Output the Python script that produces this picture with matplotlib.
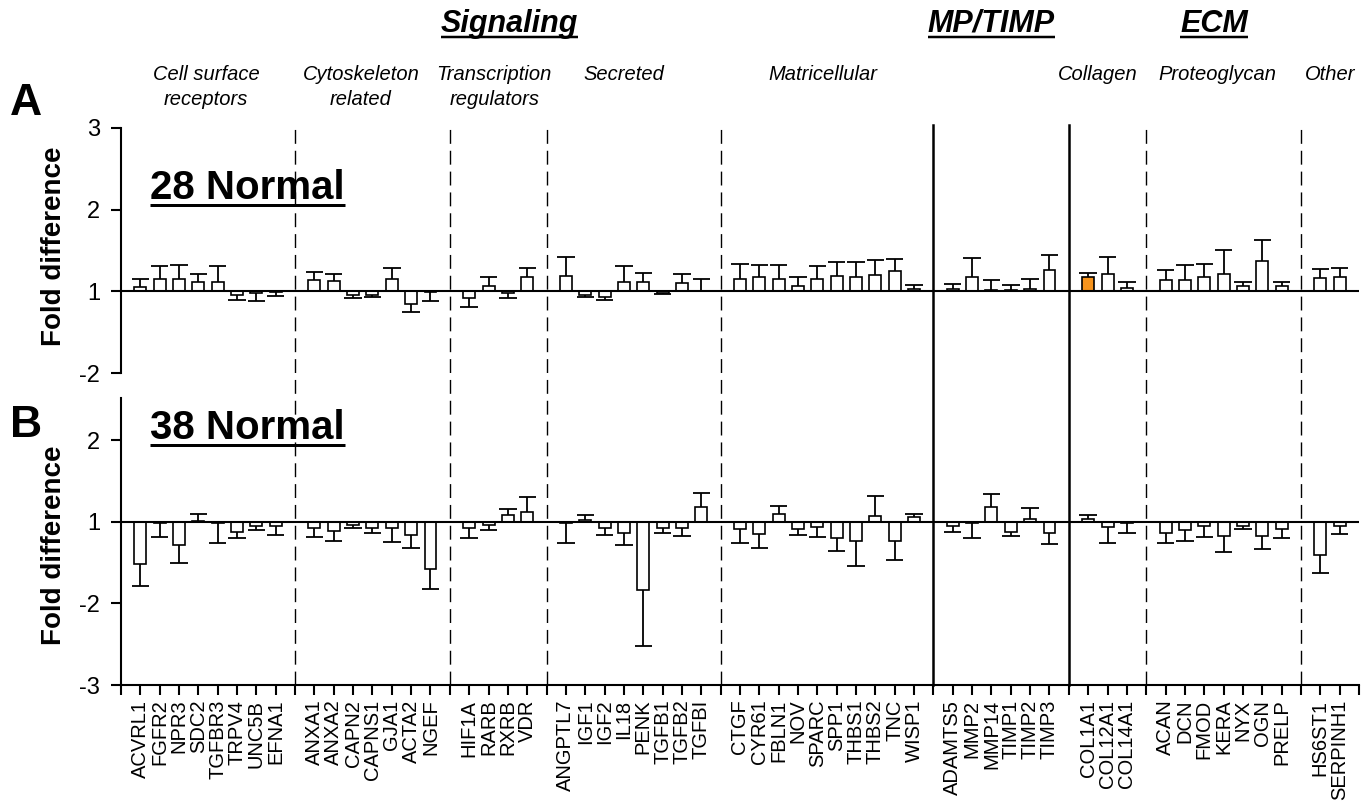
import matplotlib.pyplot as plt
import numpy as np
from matplotlib.lines import Line2D
from matplotlib.transforms import blended_transform_factory

plt.rcParams['font.family'] = ['Liberation Sans', 'DejaVu Sans']

# gene groups, in plotting order
group_sizes = [8, 7, 4, 8, 10, 6, 3, 7, 2]
separator_styles = ['--', '--', '--', '--', '-', '-', '--', '--']
group_labels = [['Cell surface', 'receptors'], ['Cytoskeleton', 'related'],
                ['Transcription', 'regulators'], ['Secreted'], ['Matricellular'],
                ['Collagen'], ['Proteoglycan'], ['Other']]
group_label_x = [4.4, 12.4, 19.3, 26.0, 36.3, 50.5, 56.7, 62.5]
headers = ['Signaling', 'MP/TIMP', 'ECM']
header_x = [20.1, 45.0, 56.5]

genes = ['ACVRL1', 'FGFR2', 'NPR3', 'SDC2', 'TGFBR3', 'TRPV4', 'UNC5B', 'EFNA1',
         'ANXA1', 'ANXA2', 'CAPN2', 'CAPNS1', 'GJA1', 'ACTA2', 'NGEF',
         'HIF1A', 'RARB', 'RXRB', 'VDR',
         'ANGPTL7', 'IGF1', 'IGF2', 'IL18', 'PENK', 'TGFB1', 'TGFB2', 'TGFBI',
         'CTGF', 'CYR61', 'FBLN1', 'NOV', 'SPARC', 'SPP1', 'THBS1', 'THBS2', 'TNC', 'WISP1',
         'ADAMTS5', 'MMP2', 'MMP14', 'TIMP1', 'TIMP2', 'TIMP3',
         'COL1A1', 'COL12A1', 'COL14A1',
         'ACAN', 'DCN', 'FMOD', 'KERA', 'NYX', 'OGN', 'PRELP',
         'HS6ST1', 'SERPINH1']

# fold difference (negative = down-regulated) and SEM
fold_28 = [1.05, 1.155, 1.155, 1.11, 1.115, -1.05, -1.025, -1.01,
           1.135, 1.13, -1.04, -1.05, 1.15, -1.15, -1.01,
           -1.08, 1.065, -1.015, 1.17,
           1.19, -1.04, -1.07, 1.115, 1.115, -1.02, 1.105, 1.01,
           1.145, 1.175, 1.155, 1.07, 1.155, 1.19, 1.175, 1.20, 1.245, 1.025,
           1.025, 1.18, 1.012, 1.02, 1.03, 1.26,
           1.17, 1.21, 1.045,
           1.135, 1.135, 1.17, 1.21, 1.06, 1.37, 1.06,
           1.16, 1.18]
err_28 = [0.10, 0.155, 0.165, 0.10, 0.195, 0.06, 0.095, 0.05,
          0.105, 0.08, 0.04, 0.02, 0.13, 0.10, 0.11,
          0.11, 0.105, 0.065, 0.12,
          0.23, 0.03, 0.04, 0.195, 0.115, 0.01, 0.11, 0.145,
          0.185, 0.145, 0.165, 0.10, 0.155, 0.17, 0.185, 0.18, 0.145, 0.055,
          0.07, 0.23, 0.123, 0.055, 0.125, 0.18,
          0.05, 0.21, 0.075,
          0.125, 0.185, 0.165, 0.30, 0.06, 0.26, 0.06,
          0.11, 0.11]

fold_38 = [-1.51, -1.01, -1.287, 1.016, -1.01, -1.123, -1.05, -1.053,
           -1.07, -1.115, -1.04, -1.07, -1.074, -1.156, -1.582,
           -1.07, -1.04, 1.082, 1.123,
           -1.012, 1.025, -1.07, -1.135, -1.832, -1.074, -1.074, 1.18,
           -1.082, -1.152, 1.094, -1.082, -1.066, -1.193, -1.238, 1.078, -1.234, 1.057,
           -1.05, -1.012, 1.18, -1.123, 1.03, -1.131,
           1.041, -1.057, -1.012,
           -1.135, -1.094, -1.053, -1.176, -1.053, -1.176, -1.086,
           -1.406, -1.05]
err_38 = [0.27, 0.174, 0.217, 0.084, 0.25, 0.07, 0.044, 0.103,
          0.114, 0.123, 0.034, 0.065, 0.172, 0.16, 0.242,
          0.127, 0.054, 0.082, 0.177,
          0.246, 0.057, 0.086, 0.148, 0.688, 0.061, 0.102, 0.172,
          0.176, 0.164, 0.106, 0.074, 0.118, 0.167, 0.303, 0.246, 0.233, 0.043,
          0.073, 0.181, 0.16, 0.053, 0.138, 0.144,
          0.049, 0.201, 0.123,
          0.123, 0.144, 0.131, 0.189, 0.033, 0.156, 0.107,
          0.221, 0.102]

highlight_28 = ['COL1A1']

# slot positions: one empty slot between groups holds the separator
positions, separators = [], []
slot = 1
for i, n in enumerate(group_sizes):
    positions.extend(range(slot, slot + n))
    slot += n
    if i < len(group_sizes) - 1:
        separators.append(slot)
        slot += 1
x_end = slot
positions = np.array(positions)


def to_axis(f):
    # fold changes of +1 and -1 coincide, so the axis skips (-1, 1)
    f = np.asarray(f, dtype=float)
    return np.where(f >= 1, f, f + 2)


def draw_panel(ax, fold, err, highlight=()):
    c = to_axis(fold)
    err = np.asarray(err)
    colors = ['#F7941D' if g in highlight else 'white' for g in genes]
    ax.bar(positions, c - 1, bottom=1, width=0.62, color=colors,
           edgecolor='black', linewidth=1.2, zorder=3)
    up = c >= 1
    tip = np.where(up, c + err, c - err)
    ax.vlines(positions, c, tip, color='black', linewidth=1.3, zorder=2)
    ax.hlines(tip, positions - 0.45, positions + 0.45, color='black', linewidth=1.3, zorder=2)
    ax.axhline(1, color='black', linewidth=1.5, zorder=4)
    ax.set_xlim(0, x_end)
    for side in ['top', 'right']:
        ax.spines[side].set_visible(False)
    ax.spines['left'].set_linewidth(1.5)
    ax.spines['bottom'].set_linewidth(1.5)
    ax.tick_params(axis='y', direction='out', length=7, width=1.5, labelsize=17, pad=8)


W, H = 1371, 801
fig = plt.figure(figsize=(W / 100, H / 100), dpi=100)
ax_a = fig.add_axes([121 / W, 1 - 373 / H, 1238 / W, 245 / H])
ax_b = fig.add_axes([121 / W, 1 - 685 / H, 1238 / W, 287 / H])

draw_panel(ax_a, fold_28, err_28, highlight_28)
ax_a.set_ylim(0, 3)
ax_a.set_yticks([3, 2, 1, 0])
ax_a.set_yticklabels(['3', '2', '1', '-2'])
ax_a.spines['bottom'].set_visible(False)
ax_a.set_xticks([])

draw_panel(ax_b, fold_38, err_38)
ax_b.set_ylim(-1, 2.52)
ax_b.set_yticks([2, 1, 0, -1])
ax_b.set_yticklabels(['2', '1', '-2', '-3'])
ax_b.set_xticks(np.arange(0, x_end + 1))
ax_b.set_xticklabels([])
ax_b.tick_params(axis='x', direction='out', length=7, width=1.5)
for p, g in zip(positions, genes):
    ax_b.text(p, -1.18, g, rotation=90, ha='center', va='top', fontsize=14.5,
              transform=ax_b.transData)

# group separators run through both panels
sep_tr = blended_transform_factory(ax_b.transData, fig.transFigure)
for s, ls in zip(separators, separator_styles):
    if ls == '-':
        fig.add_artist(Line2D([s, s], [1 - 685 / H, 1 - 125 / H], transform=sep_tr,
                              color='black', linewidth=1.8))
    else:
        fig.add_artist(Line2D([s, s], [1 - 685 / H, 1 - 125 / H], transform=sep_tr,
                              color='black', linewidth=1.0, dashes=(10, 5)))

# axis titles and panel letters
for yc in [246, 545]:
    fig.text(54 / W, 1 - yc / H, 'Fold difference', rotation=90, ha='center', va='center',
             fontsize=20, fontweight='bold')
fig.text(10 / W, 1 - 115 / H, 'A', fontsize=32, fontweight='bold', va='baseline')
fig.text(10 / W, 1 - 437 / H, 'B', fontsize=32, fontweight='bold', va='baseline')

underlined = []
underlined.append((fig.text(150 / W, 1 - 199 / H, '28 Normal', fontsize=29, fontweight='bold',
                            va='baseline'), 199 + 6, 3.0))
underlined.append((fig.text(150 / W, 1 - 439 / H, '38 Normal', fontsize=29, fontweight='bold',
                            va='baseline'), 439 + 6, 3.0))

top_tr = blended_transform_factory(ax_a.transData, fig.transFigure)
for name, hx in zip(headers, header_x):
    t = fig.text(hx, 1 - 32 / H, name, transform=top_tr, ha='center', va='baseline',
                 fontsize=22, fontweight='bold', fontstyle='italic')
    underlined.append((t, 37, 2.5))

for lines, gx in zip(group_labels, group_label_x):
    for k, line in enumerate(lines):
        fig.text(gx, 1 - (80 + 25 * k) / H, line, transform=top_tr, ha='center',
                 va='baseline', fontsize=14.5, fontstyle='italic')

fig.canvas.draw()
renderer = fig.canvas.get_renderer()
for t, y_px, lw in underlined:
    bb = t.get_window_extent(renderer)
    fig.add_artist(Line2D([bb.x0 / W, bb.x1 / W], [1 - y_px / H, 1 - y_px / H],
                          color='black', linewidth=lw * 0.72, solid_capstyle='butt'))

fig.savefig('out.png', dpi=100)
